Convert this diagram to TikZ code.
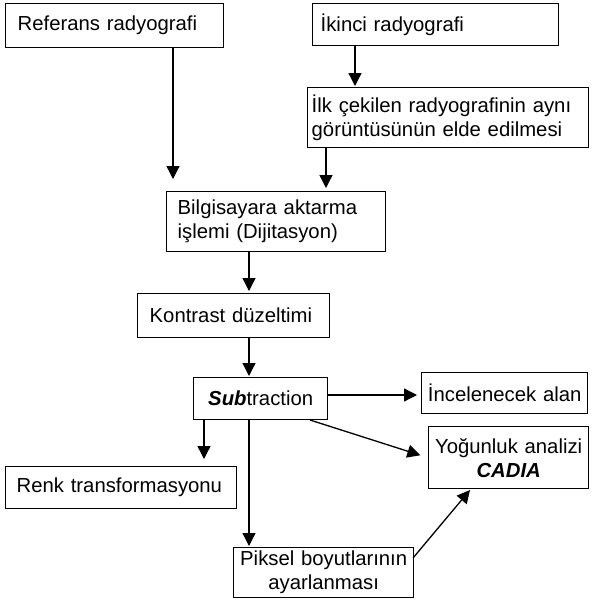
\documentclass[tikz,border=0pt]{standalone}
\usepackage{fontspec}
\setmainfont{Liberation Sans}
\usetikzlibrary{arrows.meta}
\hyphenpenalty=10000\relax
\exhyphenpenalty=10000\relax
\begin{document}
\begin{tikzpicture}[x=1pt,y=-1pt,
  box/.style={draw,line width=1.4pt,inner ysep=0pt,anchor=north west,
    font=\fontsize{20.3}{24}\selectfont},
  arr/.style={line width=1.3pt,-{Triangle[width=13pt,length=13pt]}}]
\useasboundingbox[fill=white] (0,0) rectangle (592,611);
\node[box,inner xsep=12pt,text width=194pt,minimum height=44pt,align=left] (ref) at (5,3) {Referans radyografi};
\node[box,inner xsep=8pt,text width=230pt,minimum height=42pt,align=left] (iki) at (312,3) {İkinci radyografi};
\node[box,inner xsep=4pt,text width=273pt,minimum height=60pt,align=left] (ilk) at (307,87) {İlk çekilen radyografinin aynı\\görüntüsünün elde edilmesi};
\node[box,inner xsep=11pt,text width=197pt,minimum height=60pt,align=left] (bil) at (166,191) {Bilgisayara aktarma\\işlemi (Dijitasyon)};
\node[box,inner xsep=12pt,text width=168pt,minimum height=44pt,align=left] (kon) at (137,293) {Kontrast düzeltimi};
\node[box,inner xsep=4pt,text width=126pt,minimum height=42pt,align=center] (sub) at (193,377) {\textbf{\textit{Sub}}traction};
\node[box,inner xsep=3pt,text width=160pt,minimum height=41pt,align=center] (inc) at (421,372) {İncelenecek alan};
\node[box,inner xsep=3pt,text width=154pt,minimum height=62pt,align=center] (yog) at (428,426) {Yoğunluk analizi\\\textbf{\textit{CADIA}}};
\node[box,inner xsep=11pt,text width=209pt,minimum height=42pt,align=left] (renk) at (5,466) {Renk transformasyonu};
\node[box,inner xsep=2pt,text width=176pt,minimum height=50pt,align=center] (pik) at (233,547) {Piksel boyutlarının\\ayarlanması};
\coordinate (xa) at (173,0);
\coordinate (xb) at (355,0);
\coordinate (xc) at (326,0);
\coordinate (xd) at (249,0);
\coordinate (xe) at (204,0);
\coordinate (ya) at (0,395);
\coordinate (s1) at (310,420);
\coordinate (p1) at (413,558);
\coordinate (y1) at (470,490);
\draw[arr,shorten >=12pt] (xa |- ref.south) -- (xa |- bil.north);
\draw[arr,shorten >=1pt] (xb |- iki.south) -- (xb |- ilk.north);
\draw[arr,shorten >=3pt] (xc |- ilk.south) -- (xc |- bil.north);
\draw[arr,shorten >=2pt] (xd |- bil.south) -- (xd |- kon.north);
\draw[arr,shorten >=1pt] (xd |- kon.south) -- (xd |- sub.north);
\draw[arr,shorten >=4pt] (ya -| sub.east) -- (ya -| inc.west);
\draw[arr,shorten >=8pt] (s1) -- (yog.west);
\draw[arr,shorten >=7pt] (xe |- sub.south) -- (xe |- renk.north);
\draw[arr,shorten >=1pt] (xd |- sub.south) -- (xd |- pik.north);
\draw[arr] (p1) -- (y1);
\end{tikzpicture}
\end{document}
